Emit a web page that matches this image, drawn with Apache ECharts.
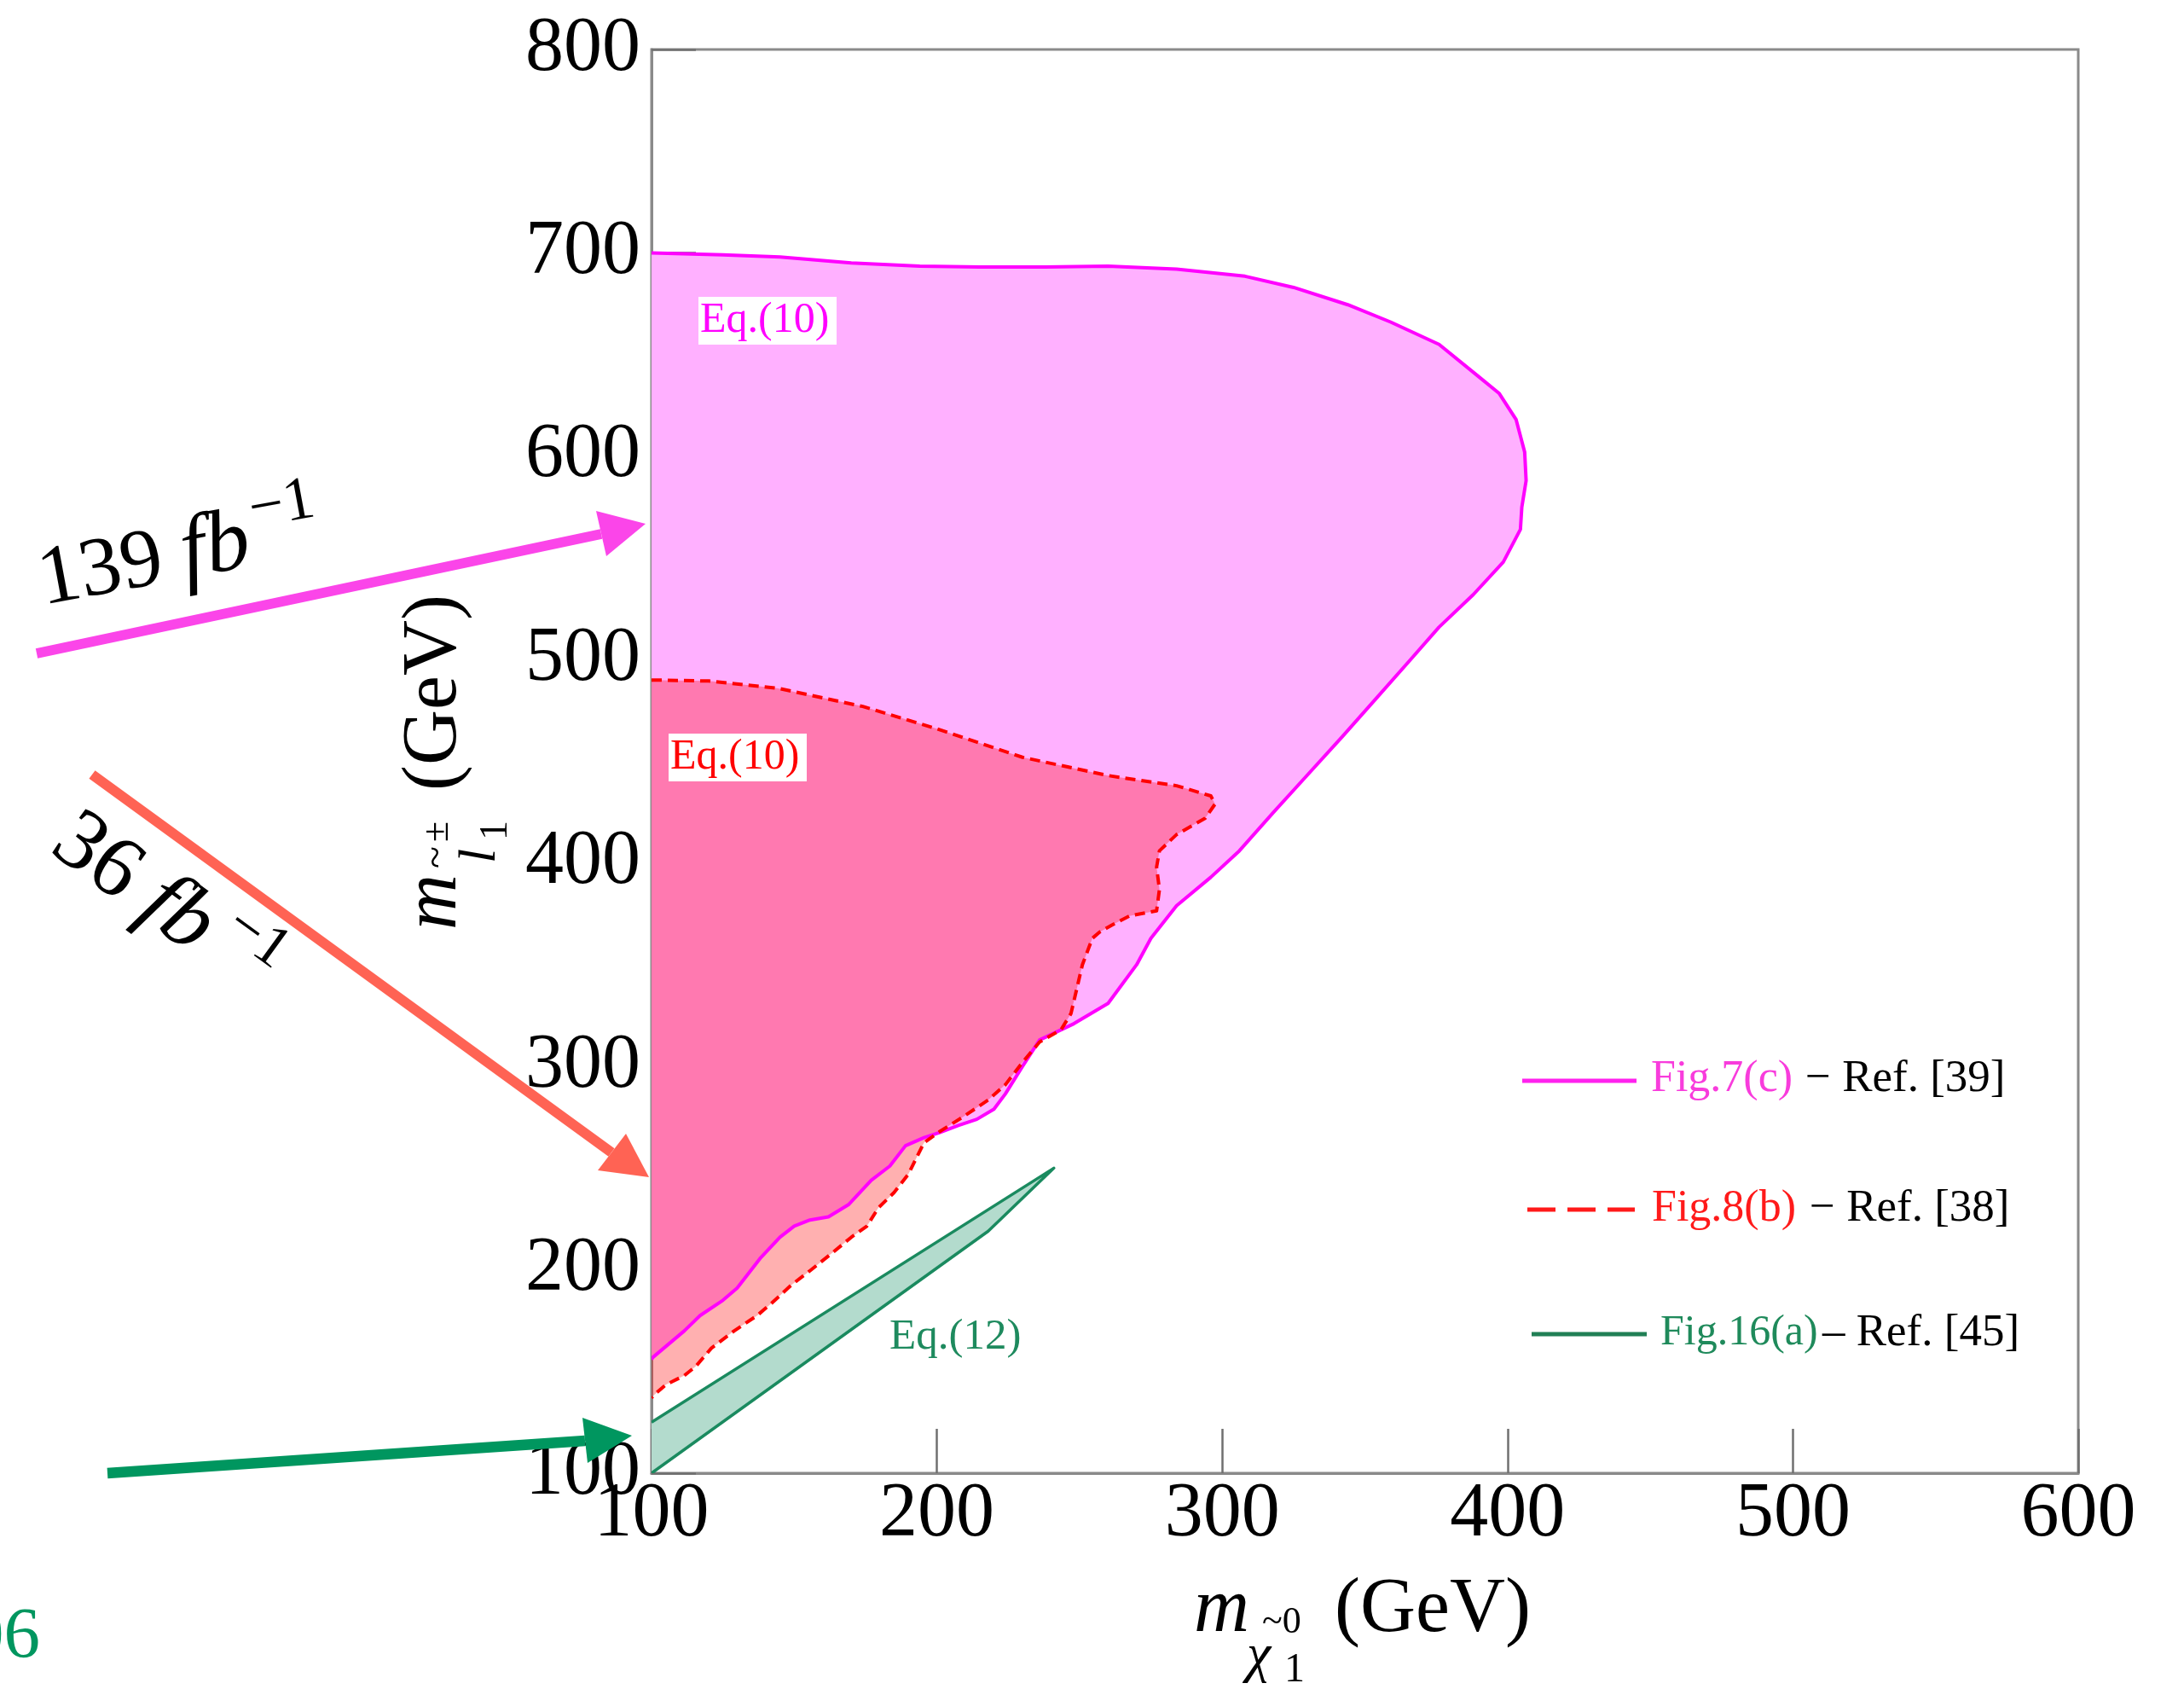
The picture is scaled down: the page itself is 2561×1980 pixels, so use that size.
<!DOCTYPE html>
<html>
<head>
<meta charset="utf-8">
<script src="https://cdn.jsdelivr.net/npm/echarts@6/dist/echarts.min.js"></script>
<style>
  html, body { margin: 0; padding: 0; background: #ffffff; }
  #chart { width: 2561px; height: 1980px; }
</style>
</head>
<body>
<div id="chart"></div>
<script>
// Axis ranges and ticks (GeV)
const xTicks = [100, 200, 300, 400, 500, 600];
const yTicks = [100, 200, 300, 400, 500, 600, 700, 800];

// Exclusion contour, Fig.7(c) of Ref. [39] (139 fb^-1): [m_chi, m_slepton]
const fig7cContour = [
  [100, 700], [125, 699], [145, 698], [170, 695], [194, 693.5], [215, 693],
  [238, 693], [260, 693.5], [284, 692], [308, 688.5], [325, 683], [344, 674.5],
  [359, 666], [376, 655], [390, 639], [397, 631], [403, 618], [406, 602],
  [406.5, 588], [405, 575], [404.5, 564], [398.5, 548], [388, 532], [376, 516],
  [366, 500], [354, 481], [342, 462], [330, 443.5], [318, 425], [306, 406],
  [296, 393], [284, 379], [275, 363], [270, 350], [260, 331], [248, 321],
  [236, 313], [230, 300], [224, 286.5], [220, 279], [214, 274], [207.5, 271],
  [201, 267.5], [195.5, 265], [189, 261], [183.5, 251], [177, 244], [169, 232],
  [162, 226], [155.5, 224.5], [150, 221.5], [145, 216], [138, 205.5], [130, 191],
  [125, 185], [117, 177.5], [111.5, 170], [100.5, 157], [100, 156]
];

// Exclusion contour, Fig.8(b) of Ref. [38] (36 fb^-1)
const fig8bContour = [
  [100, 490], [120, 489.5], [144, 486], [174, 477], [200, 466], [230, 452],
  [260, 443], [284, 438], [296, 433], [297.5, 429], [294, 422], [284, 414],
  [278, 406], [277, 398], [278, 387], [277, 376.5], [267.5, 374], [262, 370],
  [257, 366], [254.5, 363], [251, 350], [247, 326], [243.5, 318], [236, 312],
  [230, 302], [224, 291], [218, 283.5], [209, 275], [201, 268], [195.5, 262.5],
  [193, 255.5], [190, 247], [185, 238], [179.5, 230.5], [175.5, 221.5], [170, 216],
  [163.5, 208.5], [155.5, 199.5], [149, 192.5], [142, 183.5], [137, 177.5], [129, 170],
  [121, 161.5], [115.5, 152.5], [111.5, 148], [105, 143.5], [100.5, 138], [100, 137]
];

// Compressed-spectrum band, Fig.16(a) of Ref. [45]
const fig16aBand = [[100, 125], [241, 250], [218, 219], [100, 100]];

const SERIF = '"Liberation Serif", "Times New Roman", serif';

// One custom series per shape: the first item draws the whole shape from the point list
function shapeSeries(name, points, opts) {
  return {
    type: 'custom',
    name: name,
    coordinateSystem: 'cartesian2d',
    data: points,
    encode: { x: 0, y: 1 },
    clip: true,
    silent: true,
    z: opts.z,
    renderItem: function (params, api) {
      if (params.dataIndex !== 0) return null;
      const pts = points.map(function (p) { return api.coord(p); });
      if (opts.closed) {
        return { type: 'polygon', shape: { points: pts }, style: { fill: opts.fill, stroke: 'none' } };
      }
      return {
        type: 'polyline',
        shape: { points: pts },
        style: { fill: 'none', stroke: opts.stroke, lineWidth: opts.lineWidth, lineDash: opts.dash || null, lineJoin: 'round' }
      };
    }
  };
}

function txt(x, y, text, size, color, extra) {
  const e = extra || {};
  return {
    type: 'text', x: x, y: y, z: 100,
    style: {
      text: text, fill: color, fontSize: size, fontFamily: SERIF,
      fontStyle: e.italic ? 'italic' : 'normal', fontWeight: e.bold ? 'bold' : 'normal',
      align: e.align || 'left', textAlign: e.align || 'left',
      verticalAlign: 'middle', textVerticalAlign: 'middle'
    }
  };
}

function arrow(x0, y0, bx, by, tip, c1, c2, color, width) {
  return [
    { type: 'line', z: 100, shape: { x1: x0, y1: y0, x2: bx, y2: by }, style: { stroke: color, lineWidth: width } },
    { type: 'polygon', z: 100, shape: { points: [tip, c1, c2] }, style: { fill: color } }
  ];
}

const chart = echarts.init(document.getElementById('chart'), null, { renderer: 'canvas' });

const axisGrey = '#8a8a8a';

const option = {
  backgroundColor: '#ffffff',
  animation: false,
  textStyle: { fontFamily: SERIF },
  grid: {
    left: 764, top: 58, right: 124, bottom: 253,
    show: true, borderColor: axisGrey, borderWidth: 3, backgroundColor: 'transparent'
  },
  xAxis: {
    type: 'value', min: xTicks[0], max: xTicks[xTicks.length - 1], interval: 100,
    axisLine: { show: true, lineStyle: { color: axisGrey, width: 3 } },
    axisTick: { show: true, inside: true, length: 52, lineStyle: { color: '#707070', width: 2.5 } },
    splitLine: { show: false },
    axisLabel: { color: '#000', fontSize: 90, fontFamily: SERIF, margin: 4 }
  },
  yAxis: {
    type: 'value', min: yTicks[0], max: yTicks[yTicks.length - 1], interval: 100,
    axisLine: { show: true, lineStyle: { color: axisGrey, width: 3 } },
    axisTick: { show: true, inside: true, length: 52, lineStyle: { color: '#707070', width: 2.5 } },
    splitLine: { show: false },
    axisLabel: { color: '#000', fontSize: 90, fontFamily: SERIF, margin: 13 }
  },
  series: [
    shapeSeries('Fig.7(c) area', fig7cContour, { closed: true, fill: '#FFB0FF', z: 1 }),
    shapeSeries('Fig.8(b) area', fig8bContour, { closed: true, fill: 'rgba(255,0,0,0.31)', z: 2 }),
    shapeSeries('Fig.16(a) area', fig16aBand, { closed: true, fill: '#B3DBCD', z: 2 }),
    shapeSeries('Fig.7(c)', fig7cContour, { stroke: '#FF00FF', lineWidth: 4, z: 3 }),
    shapeSeries('Fig.16(a)', fig16aBand, { stroke: '#1A8A5F', lineWidth: 3.5, z: 3 }),
    shapeSeries('Fig.8(b)', fig8bContour, { stroke: '#FF0000', lineWidth: 4, dash: [12, 7], z: 4 })
  ],
  graphic: [].concat(
    // region labels
    [
      { type: 'rect', z: 90, shape: { x: 819, y: 348, width: 162, height: 56 }, style: { fill: '#ffffff' } },
      txt(821, 376, 'Eq.(10)', 50, '#FF00FF'),
      { type: 'rect', z: 90, shape: { x: 784, y: 860, width: 162, height: 56 }, style: { fill: '#ffffff' } },
      txt(786, 888, 'Eq.(10)', 50, '#FF0000'),
      txt(1043, 1568, 'Eq.(12)', 51, '#1E8A5E')
    ],
    // legend
    [
      { type: 'line', z: 100, shape: { x1: 1785, y1: 1267, x2: 1919, y2: 1267 }, style: { stroke: '#FF22EE', lineWidth: 5 } },
      txt(1936, 1265, 'Fig.7(c)', 52, '#F83CDC'),
      txt(2117, 1265, '− Ref. [39]', 53, '#000000'),
      { type: 'line', z: 100, shape: { x1: 1791, y1: 1418, x2: 1917, y2: 1418 }, style: { stroke: '#FF1A1A', lineWidth: 5, lineDash: [33, 14] } },
      txt(1937, 1417, 'Fig.8(b)', 52, '#FF1A1A'),
      txt(2122, 1417, '− Ref. [38]', 53, '#000000'),
      { type: 'line', z: 100, shape: { x1: 1796, y1: 1564, x2: 1931, y2: 1564 }, style: { stroke: '#217F55', lineWidth: 5 } },
      txt(1947, 1563, 'Fig.16(a)', 50, '#1F8A5B'),
      txt(2137, 1563, '– Ref. [45]', 53, '#000000')
    ],
    // x axis title: m_{chi~0_1} (GeV)
    [
      txt(1400, 1888, 'm', 90, '#000', { italic: true }),
      txt(1480, 1902, '~0', 44, '#000'),
      txt(1462, 1942, 'χ', 64, '#000', { italic: true }),
      txt(1506, 1958, '1', 48, '#000'),
      txt(1565, 1888, '(GeV)', 90, '#000')
    ],
    // y axis title: m_{l~±_1} (GeV), reading upwards
    [{
      type: 'group', x: 540, y: 1090, rotation: Math.PI / 2,
      children: [
        txt(0, -30, 'm', 90, '#000', { italic: true }),
        txt(72, -27, '~', 48, '#000'),
        txt(78, 24, 'l', 62, '#000', { italic: true }),
        txt(105, 42, '1', 46, '#000'),
        txt(103, -27, '±', 44, '#000'),
        txt(163, -30, '(GeV)', 90, '#000')
      ]
    }],
    // luminosity arrows
    arrow(43, 766, 705, 626, [757, 614], [699, 599], [711, 652], '#FB45E9', 11.5),
    arrow(108, 908, 717, 1351, [761, 1380], [734, 1329], [701, 1372], '#FF6354', 12),
    arrow(126, 1727, 686, 1689, [741, 1683], [683, 1662], [689, 1715], '#00965F', 12.5),
    [
      {
        type: 'group', x: 52, y: 716, rotation: 10.5 * Math.PI / 180,
        children: [
          txt(0, -33, '139 ', 98, '#000'),
          txt(170, -35, 'fb', 104, '#000', { italic: true }),
          txt(258, -70, '−1', 72, '#000')
        ]
      },
      {
        type: 'group', x: 52, y: 1003, rotation: -36 * Math.PI / 180,
        children: [
          txt(0, -34, '36 ', 102, '#000'),
          txt(127, -35, 'fb', 104, '#000', { italic: true }),
          txt(222, -68, '−1', 70, '#000')
        ]
      },
      txt(47, 1921, '06', 85, '#00965F', { align: 'right' })
    ]
  )
};

chart.setOption(option);
</script>
</body>
</html>
